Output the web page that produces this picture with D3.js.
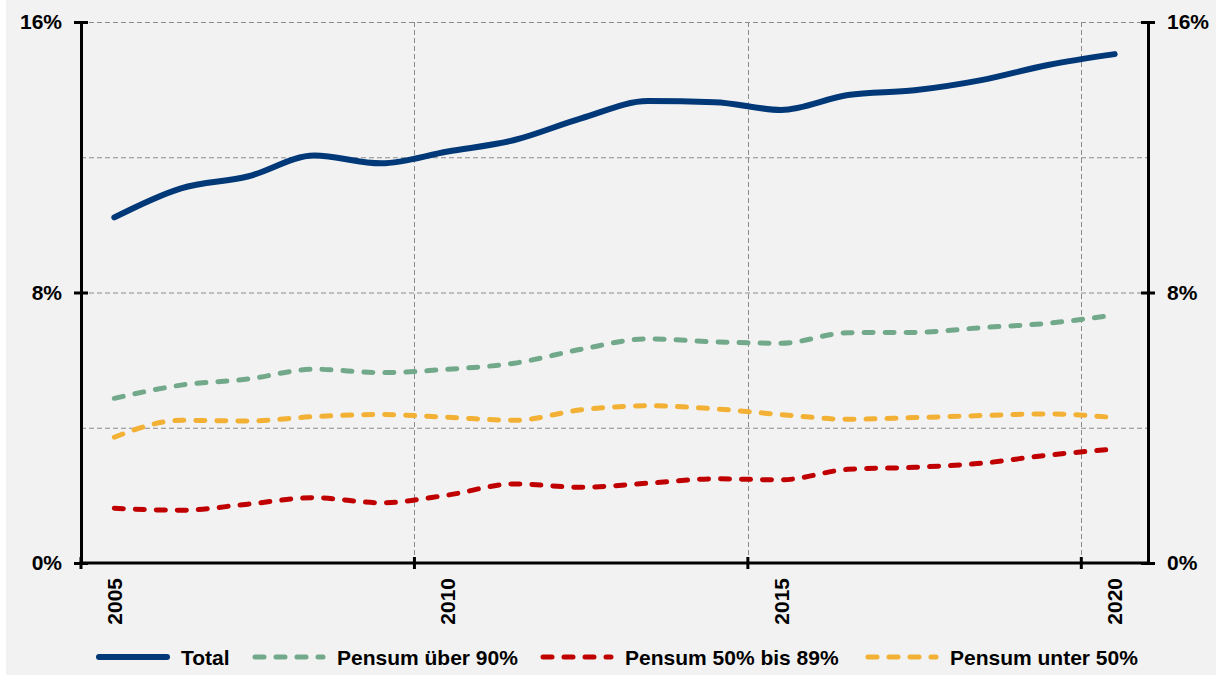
<!DOCTYPE html>
<html>
<head>
<meta charset="utf-8">
<script src="https://cdn.jsdelivr.net/npm/d3@7"></script>
<style>
  html, body { margin: 0; padding: 0; background: #fff; }
  svg { display: block; font-family: "Liberation Sans", Arial, sans-serif; }
</style>
</head>
<body>
<div id="chart"></div>
<script>
const years = ["2005","2006","2007","2008","2009","2010","2011","2012","2013","2014","2015","2016","2017","2018","2019","2020"];
const labelYears = ["2005","2010","2015","2020"];
const yTicks = [0, 8, 16];
const gridTicks = [4, 8, 12, 16];

const total   = [10.22,11.08,11.43,12.05,11.82,12.17,12.51,13.15,13.66,13.63,13.40,13.84,13.98,14.28,14.73,15.05];
const ueber90 = [4.87,5.26,5.44,5.73,5.63,5.73,5.91,6.32,6.63,6.54,6.50,6.81,6.82,6.96,7.09,7.34];
const p50bis89 = [1.62,1.56,1.74,1.93,1.78,2.01,2.34,2.24,2.36,2.49,2.46,2.77,2.83,2.95,3.19,3.37];
const unter50 = [3.72,4.22,4.20,4.33,4.39,4.31,4.22,4.53,4.65,4.56,4.39,4.25,4.30,4.36,4.41,4.30];

const seriesNames = ["Total", "Pensum über 90%", "Pensum 50% bis 89%", "Pensum unter 50%"];
const seriesColors = ["#003878", "#72a98b", "#c00000", "#f2b134"];

const series = [
    { name: seriesNames[0], values: total,    color: seriesColors[0], dashed: false },
    { name: seriesNames[1], values: ueber90,  color: seriesColors[1], dashed: true },
    { name: seriesNames[2], values: p50bis89, color: seriesColors[2], dashed: true },
    { name: seriesNames[3], values: unter50,  color: seriesColors[3], dashed: true }
];

const W = 1216, H = 678;
const plotLeft = 81, plotRight = 1148, plotTop = 22, plotBottom = 563;
const fontSize = "21px";

const svg = d3.select("#chart").append("svg")
    .attr("width", W)
    .attr("height", H);

svg.append("rect")
    .attr("x", 6).attr("y", 0)
    .attr("width", W - 6).attr("height", 675)
    .attr("fill", "#f2f2f2");

const x = d3.scaleBand().domain(years).range([plotLeft, plotRight]);
const y = d3.scaleLinear().domain([0, 16]).range([plotBottom, plotTop]);

// grid
const grid = svg.append("g").attr("stroke", "#8c8c8c").attr("stroke-width", 1).attr("stroke-dasharray", "5,3");
grid.selectAll("line.h")
    .data(gridTicks)
    .join("line")
    .attr("class", "h")
    .attr("x1", plotLeft).attr("x2", plotRight)
    .attr("y1", d => y(d) + 0.5).attr("y2", d => y(d) + 0.5);
grid.selectAll("line.v")
    .data(labelYears.slice(1))
    .join("line")
    .attr("class", "v")
    .attr("x1", d => Math.round(x(d)) + 0.5).attr("x2", d => Math.round(x(d)) + 0.5)
    .attr("y1", plotTop).attr("y2", plotBottom);

// lines
const line = d3.line()
    .x((d, i) => x(years[i]) + x.bandwidth() / 2)
    .y(d => y(d))
    .curve(d3.curveMonotoneX);

svg.append("g")
    .selectAll("path")
    .data(series.slice().reverse())
    .join("path")
    .attr("d", d => line(d.values))
    .attr("fill", "none")
    .attr("stroke", d => d.color)
    .attr("stroke-width", d => d.dashed ? 5 : 6)
    .attr("stroke-linecap", "round")
    .attr("stroke-linejoin", "round")
    .attr("stroke-dasharray", d => d.dashed ? "9,12" : null);

// axes
const yLeft = svg.append("g")
    .attr("transform", `translate(${plotLeft},0)`)
    .call(d3.axisLeft(y).tickValues(yTicks).tickFormat(d => d + "%").tickSizeOuter(0).tickSize(7).tickPadding(12));
const yRight = svg.append("g")
    .attr("transform", `translate(${plotRight},0)`)
    .call(d3.axisRight(y).tickValues(yTicks).tickFormat(d => d + "%").tickSizeOuter(0).tickSize(7).tickPadding(12));

[yLeft, yRight].forEach(g => {
    g.select(".domain").attr("stroke", "#000").attr("stroke-width", 3);
    g.selectAll(".tick line").attr("x1", -7).attr("x2", 7).attr("stroke", "#000").attr("stroke-width", 3);
    g.selectAll(".tick text")
        .attr("fill", "#000")
        .style("font-size", fontSize)
        .style("font-weight", "bold");
});

// x axis
const xAxis = svg.append("g");
xAxis.append("line")
    .attr("x1", plotLeft - 1.5).attr("x2", plotRight + 1.5)
    .attr("y1", plotBottom).attr("y2", plotBottom)
    .attr("stroke", "#000").attr("stroke-width", 3);
xAxis.selectAll("line.tick")
    .data(labelYears)
    .join("line")
    .attr("class", "tick")
    .attr("x1", d => x(d)).attr("x2", d => x(d))
    .attr("y1", plotBottom - 6).attr("y2", plotBottom + 6)
    .attr("stroke", "#000").attr("stroke-width", 3);
xAxis.selectAll("text")
    .data(labelYears)
    .join("text")
    .attr("transform", d => `translate(${x(d) + x.bandwidth() / 2 + 7.5},${plotBottom + 15}) rotate(-90)`)
    .attr("text-anchor", "end")
    .style("font-size", fontSize)
    .style("font-weight", "bold")
    .text(d => d);

// legend
const legendX = [97, 253, 541, 866];
const legend = svg.append("g").attr("transform", "translate(0,657)");
const items = legend.selectAll("g")
    .data(series)
    .join("g")
    .attr("transform", (d, i) => `translate(${legendX[i]},0)`);
items.append("line")
    .attr("x1", 2).attr("x2", 70)
    .attr("y1", 0).attr("y2", 0)
    .attr("stroke", d => d.color)
    .attr("stroke-width", d => d.dashed ? 5 : 6)
    .attr("stroke-linecap", "round")
    .attr("stroke-dasharray", d => d.dashed ? "9,12" : null);
items.append("text")
    .attr("x", 84)
    .attr("y", 7.5)
    .style("font-size", fontSize)
    .style("font-weight", "bold")
    .text(d => d.name);
</script>
</body>
</html>
